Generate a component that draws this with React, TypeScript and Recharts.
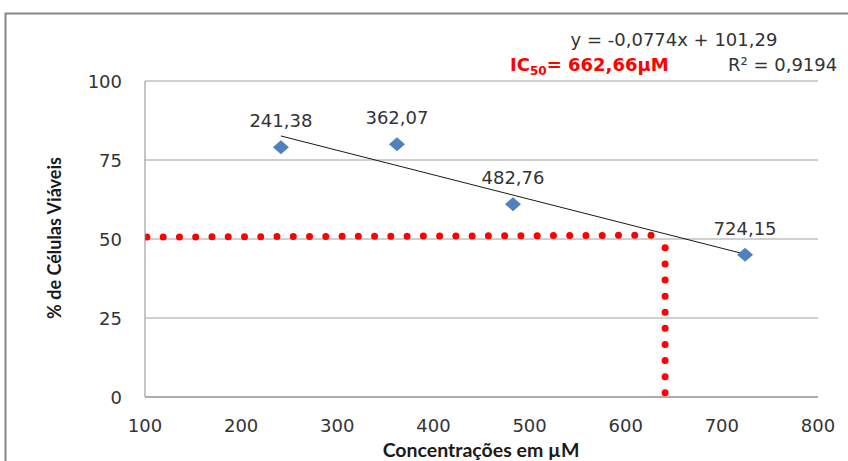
import React from 'react';
import { ComposedChart, XAxis, YAxis, CartesianGrid, Line, Scatter } from 'recharts';

const concentrations = [241.38, 362.07, 482.76, 724.15];
const viability = [79, 80, 61, 45];
const pointLabels = ['241,38', '362,07', '482,76', '724,15'];
const xTicks = [100, 200, 300, 400, 500, 600, 700, 800];
const yTicks = [0, 25, 50, 75, 100];
const trendX = [241.38, 724.15];
const trendY = [82.6, 45.2];
const hGuideX = [102, 627];
const hGuideY = [50.6, 51.2];
const vGuideX = [641, 641];
const vGuideY = [47.2, 0.9];

const FONT = '"DejaVu Sans", sans-serif';
const TITLE_FONT = 'Lato, "DejaVu Sans", sans-serif';

const points = concentrations.map((x, i) => ({ x, y: viability[i], label: pointLabels[i] }));
const trend = trendX.map((x, i) => ({ x, y: trendY[i] }));
const hGuide = hGuideX.map((x, i) => ({ x, y: hGuideY[i] }));
const vGuide = vGuideX.map((x, i) => ({ x, y: vGuideY[i] }));

const Diamond = (props: any) => {
  const { cx, cy, payload } = props;
  return (
    <g>
      <polygon
        points={`${cx - 8},${cy} ${cx},${cy - 7} ${cx + 8},${cy} ${cx},${cy + 7}`}
        fill="#4F81BD"
      />
      <text x={cx} y={cy - 20} textAnchor="middle" fontFamily={FONT} fontSize={18} fill="#333">
        {payload.label}
      </text>
    </g>
  );
};

const XTick = (props: any) => {
  const { x, y, payload } = props;
  return (
    <text x={x} y={y + 35} textAnchor="middle" fontFamily={FONT} fontSize={18} fill="#333">
      {payload.value}
    </text>
  );
};

const YTick = (props: any) => {
  const { x, y, payload } = props;
  return (
    <text x={x - 23} y={y + 6.5} textAnchor="end" fontFamily={FONT} fontSize={18} fill="#333">
      {payload.value}
    </text>
  );
};

export default function App() {
  return (
    <div style={{ position: 'absolute', left: 0, top: 0, width: 848, height: 461, background: '#fff' }}>
      <ComposedChart width={848} height={461} margin={{ top: 81, right: 30, bottom: 34, left: 85 }}>
        <rect x={5.5} y={13.5} width={900} height={600} fill="none" stroke="#868686" strokeWidth={2} />
        <CartesianGrid vertical={false} stroke="#a0a0a0" strokeWidth={1} />
        <XAxis
          type="number"
          dataKey="x"
          domain={[100, 800]}
          ticks={xTicks}
          allowDataOverflow
          height={30}
          tickSize={0}
          tickMargin={0}
          tickLine={false}
          stroke="#8c8c8c"
          tick={<XTick />}
        />
        <YAxis
          type="number"
          dataKey="y"
          domain={[0, 100]}
          ticks={yTicks}
          allowDataOverflow
          width={60}
          tickSize={0}
          tickMargin={0}
          tickLine={false}
          stroke="#8c8c8c"
          tick={<YTick />}
        />
        <Line
          data={hGuide}
          dataKey="y"
          stroke="#FF0000"
          strokeWidth={7}
          strokeDasharray="0 16.26"
          strokeLinecap="round"
          dot={false}
          activeDot={false}
          isAnimationActive={false}
        />
        <Line
          data={vGuide}
          dataKey="y"
          stroke="#FF0000"
          strokeWidth={7}
          strokeDasharray="0 16.1"
          strokeLinecap="round"
          dot={false}
          activeDot={false}
          isAnimationActive={false}
        />
        <Line
          data={trend}
          dataKey="y"
          stroke="#1a1a1a"
          strokeWidth={1}
          dot={false}
          activeDot={false}
          isAnimationActive={false}
        />
        <Scatter data={points} dataKey="y" shape={<Diamond />} isAnimationActive={false} />
        <text x={674} y={46} textAnchor="middle" fontFamily={FONT} fontSize={18} fill="#333">
          y = -0,0774x + 101,29
        </text>
        <text x={510} y={71} fontFamily={FONT} fontSize={18} fontWeight="bold" fill="#FF0000">
          IC<tspan fontSize={12} dy={4}>50</tspan>
          <tspan dy={-4}>= 662,66µM</tspan>
        </text>
        <text x={728} y={71} fontFamily={FONT} fontSize={18} fill="#333">
          R² = 0,9194
        </text>
        <text
          x={54}
          y={238}
          transform="rotate(-90 54 238)"
          textAnchor="middle"
          dominantBaseline="central"
          fontFamily={TITLE_FONT}
          fontSize={18}
          fontWeight="bold"
          fill="#1a1a1a"
        >
          % de Células Viáveis
        </text>
        <text x={481} y={456.5} textAnchor="middle" fontFamily={TITLE_FONT} fontSize={19.5} fontWeight="bold" fill="#1a1a1a">
          Concentrações em µM
        </text>
      </ComposedChart>
    </div>
  );
}
